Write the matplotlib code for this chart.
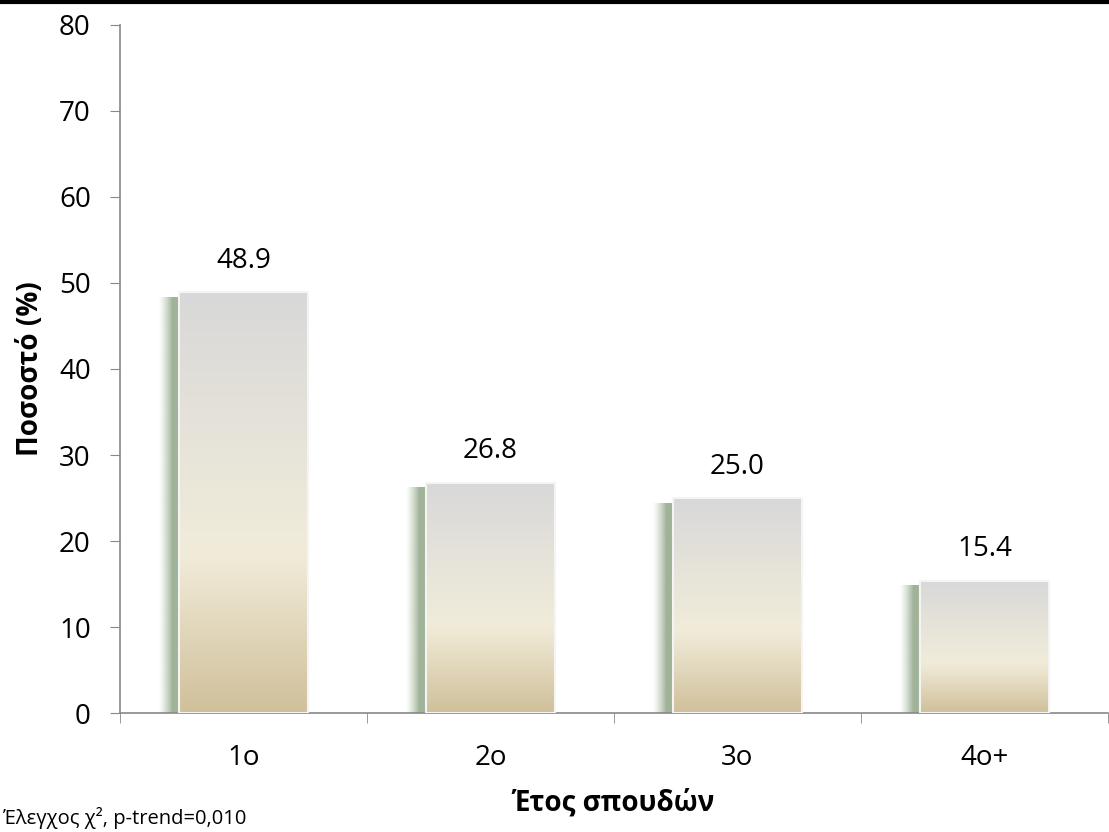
import numpy as np
import matplotlib
matplotlib.use("Agg")
from matplotlib import pyplot as plt
from matplotlib.colors import LinearSegmentedColormap, to_rgb
from matplotlib.lines import Line2D

years = ["1ο", "2ο", "3ο", "4ο+"]
percent = [48.9, 26.8, 25.0, 15.4]
y_ticks = [0, 10, 20, 30, 40, 50, 60, 70, 80]

plt.rcParams['font.family'] = ['Open Sans', 'DejaVu Sans']

bar_cmap = LinearSegmentedColormap.from_list(
    "bar", [(0.0, "#d0c09a"), (0.38, "#f1ecda"), (1.0, "#d8d8d8")])


def draw_bar(ax, x, value, width=0.52, shadow_dx=0.085):
    left = x - width / 2
    # soft green shadow on the left side
    sh = np.zeros((2, 40, 4))
    sh[..., :3] = to_rgb("#a0b398")
    ramp = np.clip(np.linspace(0, 1, 40) / 0.6, 0, 1) ** 1.4
    sh[..., 3] = ramp
    ax.imshow(sh, extent=[left - shadow_dx, left + 0.01, 0, value - 0.6],
              aspect='auto', interpolation='bilinear', zorder=2)
    # vertical gradient body
    grad = np.linspace(0, 1, 256).reshape(-1, 1)
    ax.imshow(grad, extent=[left, left + width, 0, value], origin='lower',
              aspect='auto', cmap=bar_cmap, interpolation='bilinear', zorder=3)
    ax.add_patch(plt.Rectangle((left, 0), width, value, fill=False,
                               edgecolor="#f4f4f4", lw=1.5, zorder=4))
    ax.text(x, value + 2.0, f"{value:.1f}", ha='center', va='bottom',
            fontsize=20, color='black', zorder=5)


fig = plt.figure(figsize=(11.09, 8.32), dpi=100)
ax = fig.add_axes([0.1082, 0.143, 0.8909, 0.827])

for i, v in enumerate(percent):
    draw_bar(ax, i, v)

ax.set_xlim(-0.5, len(years) - 0.5)
ax.set_ylim(0, 80)
ax.set_yticks(y_ticks)
ax.set_yticklabels([str(t) for t in y_ticks], fontsize=20)
ax.set_xticks(range(len(years)))
ax.set_xticklabels(years, fontsize=20)
ax.set_xticks(np.arange(-0.5, len(years)), minor=True)
ax.tick_params(axis='x', which='major', length=0, pad=22)
ax.tick_params(axis='x', which='minor', length=7, color='#888888')
ax.tick_params(axis='y', length=7, color='#888888', pad=14)

for side in ['top', 'right']:
    ax.spines[side].set_visible(False)
for side in ['left', 'bottom']:
    ax.spines[side].set_color('#888888')
    ax.spines[side].set_linewidth(1.2)

ax.set_ylabel("Ποσοστό (%)", fontsize=20, fontweight='bold', labelpad=10)
ax.set_xlabel("Έτος σπουδών", fontsize=20, fontweight='bold', labelpad=12)

fig.text(0.003, 0.004, "Έλεγχος χ², p-trend=0,010", fontsize=14.5, ha='left', va='bottom')
fig.add_artist(Line2D([0, 1], [0.9975, 0.9975], color='black', lw=3,
                      transform=fig.transFigure))

fig.savefig("out.png", dpi=100)
